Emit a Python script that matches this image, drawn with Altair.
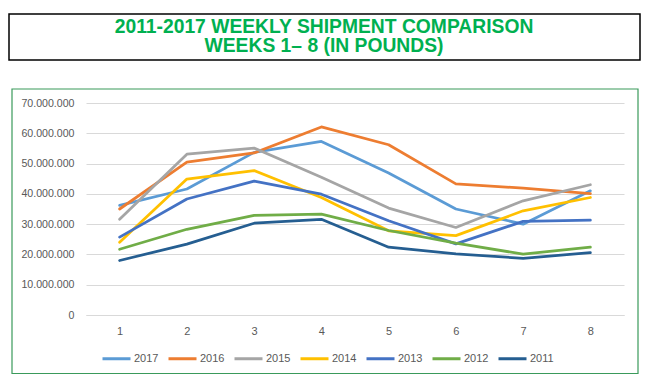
import altair as alt
import pandas as pd

weeks = [1, 2, 3, 4, 5, 6, 7, 8]
years = ["2017", "2016", "2015", "2014", "2013", "2012", "2011"]
s2017 = [36.2e6, 41.6e6, 53.7e6, 57.3e6, 46.9e6, 35.0e6, 30.0e6, 41.0e6]
s2016 = [35.0e6, 50.5e6, 53.5e6, 62.1e6, 56.2e6, 43.3e6, 41.9e6, 40.1e6]
s2015 = [31.6e6, 53.1e6, 55.1e6, 45.5e6, 35.3e6, 28.9e6, 37.7e6, 43.0e6]
s2014 = [24.0e6, 44.9e6, 47.7e6, 38.8e6, 27.8e6, 26.2e6, 34.4e6, 38.8e6]
s2013 = [25.7e6, 38.3e6, 44.2e6, 39.9e6, 31.1e6, 23.5e6, 30.9e6, 31.3e6]
s2012 = [21.7e6, 28.3e6, 32.9e6, 33.3e6, 27.9e6, 23.7e6, 20.1e6, 22.4e6]
s2011 = [18.0e6, 23.4e6, 30.3e6, 31.6e6, 22.4e6, 20.2e6, 18.7e6, 20.6e6]
series = [s2017, s2016, s2015, s2014, s2013, s2012, s2011]
colors = ["#5B9BD5", "#ED7D31", "#A5A5A5", "#FFC000", "#4472C4", "#70AD47", "#255E91"]
y_ticks = [0, 10e6, 20e6, 30e6, 40e6, 50e6, 60e6, 70e6]
title_lines = ["2011-2017 WEEKLY SHIPMENT COMPARISON", "WEEKS 1\u2013 8 (IN POUNDS)"]

rows = []
for yr, vals in zip(years, series):
    for w, v in zip(weeks, vals):
        rows.append({"week": str(w), "year": yr, "pounds": v})
df = pd.DataFrame(rows)

W, H = 538, 212
one = pd.DataFrame({"a": [0]})
LABEL_FONT = "Liberation Sans"

green_box = alt.Chart(one).mark_rect(
    fill="white", fillOpacity=0, stroke="#3A9A5B", strokeWidth=1.2
).encode(x=alt.value(-74), x2=alt.value(552), y=alt.value(-14), y2=alt.value(270.5))

title_box = alt.Chart(one).mark_rect(
    fill="white", stroke="black", strokeWidth=1.5
).encode(x=alt.value(-77), x2=alt.value(554), y=alt.value(-89), y2=alt.value(-43))

tdf = pd.DataFrame({"t": title_lines, "yy": [-76, -57]})
title_text = alt.Chart(tdf).mark_text(
    font="Liberation Sans", fontWeight="bold", fontSize=19.3, color="#00B050",
    align="center", baseline="middle"
).encode(x=alt.value(238), y=alt.Y("yy:Q", scale=None, axis=None), text="t:N")

lines = alt.Chart(df).mark_line(
    strokeWidth=2.75, strokeJoin="round", strokeCap="round"
).encode(
    x=alt.X("week:O", scale=alt.Scale(type="point", padding=0.5),
            axis=alt.Axis(title=None, labelAngle=0, ticks=False, tickSize=0,
                          domainColor="#D9D9D9", labelPadding=10, grid=False)),
    y=alt.Y("pounds:Q", scale=alt.Scale(domain=[0, 70e6], nice=False),
            axis=alt.Axis(title=None, values=y_ticks, format=",d", ticks=False, tickSize=0,
                          domain=False, labelPadding=12, gridColor="#D9D9D9",
                          labelFontSize=10.6)),
    color=alt.Color("year:N", sort=years,
                    scale=alt.Scale(domain=years, range=colors),
                    legend=alt.Legend(title=None, orient="none", legendX=15, legendY=240,
                                      direction="horizontal", columns=7,
                                      symbolType="stroke", symbolSize=784,
                                      symbolStrokeWidth=3, labelOffset=2,
                                      columnPadding=3, labelFontSize=11,
                                      labelColor="#595959", labelFont=LABEL_FONT)),
)

chart = alt.layer(green_box, title_box, title_text, lines).resolve_scale(y="independent").properties(
    width=W, height=H,
    autosize=alt.AutoSizeParams(type="none"),
    padding={"left": 78, "top": 95, "right": 17, "bottom": 60},
).configure(
    locale={"number": {"decimal": ",", "thousands": ".", "grouping": [3], "currency": ["", ""]}}
).configure_view(stroke=None).configure_axis(
    labelFont=LABEL_FONT, labelFontSize=11, labelColor="#595959"
)

chart.save("out.html", embed_options={"renderer": "svg", "actions": False})
